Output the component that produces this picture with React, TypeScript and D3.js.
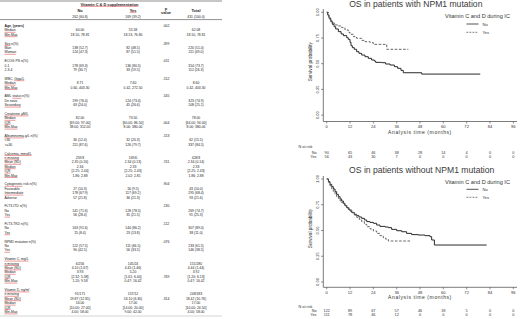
import React from "react";
import * as d3 from "d3";

const W = 520;
const H = 319;
const FONT = '"Liberation Sans", Arial, Helvetica, sans-serif';

// ---------------- table data ----------------
const tableHeader = "Vitamin C & D supplementation";
const groupLabels = ["No", "Yes"];
const groupCounts = ["262 (60.8)", "169 (39.2)"];
const totalLabel = "Total";
const totalCount = "431 (100.0)";

const sectionTitles = [
  "Age, (years)",
  "Sex n(%)",
  "ECOG PS n(%)",
  "WBC, Giga/L",
  "AML status n(%)",
  "Creatinine µM/L",
  "Albuminemia g/L n(%)",
  "Calcemia, mmol/L",
  "Cytogenetic risk n(%)",
  "FLT3-ITD n(%)",
  "FLT3-TKD n(%)",
  "NPM1 mutation n(%)",
  "Vitamin C, mg/L",
  "Vitamin D, ng/ml",
];
const sectionUnderline = ["", "Sex", "", "Giga/L", "status", "Creatinine µM/L", "Albuminemia", "Calcemia, mmol/L", "Cytogenetic", "", "", "", "Vitamin C, mg/L", "Vitamin D, ng/ml"];
const sectionP = [".002", ".399", ".011", ".152", ".545", ".004", ".153", ".741", ".904", ".130", ".112", ".076", ".769", ".314"];
const sectionPRow = [0, 0, 0, 0, 0, 2, 0, 2, 0, 0, 0, 0, 4, 2];

const rowLabels = [
  ["Median", "Min-Max"],
  ["Man", "Woman"],
  ["0-1", "2-3-4"],
  ["Median", "Min-Max"],
  ["De novo", "Secondary"],
  ["Median", "IQR", "Min-Max"],
  ["<30", ">=30"],
  ["n missing", "Mean (SD)", "Median", "IQR", "Min-Max"],
  ["Favorable", "Intermediate", "Adverse"],
  ["No", "Yes"],
  ["No", "Yes"],
  ["No", "Yes"],
  ["n missing", "Mean (SD)", "Median", "IQR", "Min-Max"],
  ["n missing", "Mean (SD)", "Median", "IQR", "Min-Max"],
];
const underlinedLabels = ["Median", "Min-Max", "Woman", "Secondary", "IQR", "n missing", "Mean (SD)", "Yes", "Intermediate"];

const noValues = [
  ["60.00", "18.10, 78.81"],
  ["138 (52.7)", "124 (47.3)"],
  ["178 (69.3)", "79 (30.7)"],
  ["8.71", "0.60, 403.30"],
  ["199 (76.0)", "63 (24.0)"],
  ["82.00", "[69.00; 97.00]", "38.00; 312.00"],
  ["30 (12.4)", "211 (87.6)"],
  ["259/3", "2.35 (0.16)", "2.34", "[2.25; 2.44]", "1.86; 2.88"],
  ["27 (10.3)", "178 (67.9)", "57 (21.8)"],
  ["141 (71.6)", "56 (28.4)"],
  ["163 (91.6)", "15 (8.4)"],
  ["122 (57.5)", "90 (42.5)"],
  ["6/256", "4.10 (1.67)", "3.93", "[2.32; 5.38]", "1.20; 9.58"],
  ["91/171", "19.87 (12.81)", "16.00", "[10.00; 27.00]", "4.00; 58.00"],
];
const yesValues = [
  ["55.58", "18.13, 76.80"],
  ["82 (48.5)", "87 (51.5)"],
  ["136 (80.5)", "33 (19.5)"],
  ["7.60", "0.42, 272.50"],
  ["124 (73.4)", "45 (26.6)"],
  ["73.50", "[60.00; 86.50]", "8.00; 380.00"],
  ["32 (20.3)", "126 (79.7)"],
  ["169/0", "2.34 (0.13)", "2.33", "[2.25; 2.43]", "2.02; 2.81"],
  ["16 (9.5)", "117 (69.2)", "36 (21.3)"],
  ["128 (78.5)", "35 (21.5)"],
  ["144 (86.2)", "23 (13.8)"],
  ["111 (66.5)", "56 (33.5)"],
  ["145/24", "4.45 (1.46)", "5.20", "[1.61; 6.40]", "0.47; 16.42"],
  ["157/12", "16.10 (6.30)", "17.00", "[14.00; 20.00]", "9.00; 42.00"],
];
const totalValues = [
  ["62.08", "18.10, 78.81"],
  ["220 (51.0)", "211 (49.0)"],
  ["314 (73.7)", "112 (26.3)"],
  ["8.60", "0.42, 403.30"],
  ["323 (74.9)", "108 (25.1)"],
  ["78.00", "[64.00; 94.00]", "8.00; 380.00"],
  ["62 (15.5)", "337 (84.5)"],
  ["428/3", "2.34 (0.14)", "2.33", "[2.25; 2.43]", "1.86; 2.88"],
  ["43 (10.0)", "295 (68.4)", "93 (21.6)"],
  ["269 (74.7)", "91 (25.3)"],
  ["307 (89.0)", "38 (11.0)"],
  ["233 (61.5)", "146 (38.5)"],
  ["151/280", "4.44 (1.44)", "3.92", "[1.20; 6.13]", "0.47; 16.42"],
  ["248/183", "18.42 (10.76)", "17.00", "[10.00; 24.50]", "4.00; 58.00"],
];

// ---------------- Kaplan-Meier data ----------------
const kmTitles = ["OS in patients with NPM1 mutation", "OS in patients without NPM1 mutation"];
const legendTitle = "Vitamin C and D during IC";
const seriesNames = ["No", "Yes"];
const timeTicks = [0, 12, 24, 36, 48, 60, 72, 84, 96];
const survTicks = [0, 0.25, 0.5, 0.75, 1];

const km1No: [number, number][] = [[0,1],[0.5,0.974],[1.2,0.942],[2.1,0.909],[2.9,0.883],[3.8,0.86],[4.6,0.838],[6.0,0.812],[7.4,0.789],[8.6,0.773],[10.3,0.753],[11.1,0.737],[12.0,0.708],[12.5,0.675],[13.2,0.656],[14.2,0.64],[15.4,0.617],[16.6,0.601],[18.0,0.584],[19.7,0.568],[21.4,0.552],[23.1,0.536],[24.5,0.526],[25.2,0.513],[28.3,0.51],[30.3,0.497],[32.6,0.487],[34.8,0.471],[36.5,0.455],[38.2,0.435],[39.4,0.412],[48.9,0.399],[79,0.399]];
const km1Yes: [number, number][] = [[0,1],[0.9,0.958],[1.7,0.925],[2.6,0.903],[3.4,0.893],[4.3,0.877],[6.0,0.867],[7.7,0.851],[9.4,0.828],[11.1,0.805],[12.0,0.786],[13.7,0.763],[15.4,0.747],[18.0,0.727],[19.7,0.714],[22.3,0.705],[24.0,0.688],[30.9,0.64],[42.0,0.64]];
const km2No: [number, number][] = [[0,1],[0.9,0.974],[1.7,0.948],[2.6,0.926],[3.4,0.903],[4.3,0.877],[5.1,0.851],[6.0,0.828],[6.9,0.806],[7.7,0.786],[8.6,0.764],[9.4,0.741],[10.3,0.722],[11.1,0.706],[12.0,0.689],[12.9,0.673],[14.2,0.657],[15.4,0.644],[16.6,0.631],[18.0,0.618],[19.4,0.602],[20.6,0.586],[22.3,0.579],[24.0,0.57],[25.7,0.553],[27.4,0.54],[30.0,0.534],[31.7,0.528],[33.4,0.511],[36.0,0.498],[38.6,0.488],[41.1,0.472],[43.7,0.46],[47.1,0.456],[50.6,0.45],[53.1,0.44],[54.0,0.408],[55.4,0.359],[82.3,0.359]];
const km2Yes: [number, number][] = [[0,1],[0.9,0.968],[1.7,0.935],[2.6,0.903],[3.4,0.877],[4.3,0.851],[5.1,0.828],[6.0,0.812],[6.9,0.786],[7.7,0.77],[9.1,0.748],[10.3,0.722],[11.5,0.699],[12.9,0.676],[14.2,0.65],[15.4,0.628],[16.8,0.608],[18.0,0.586],[19.4,0.56],[20.6,0.537],[22.3,0.515],[24.0,0.495],[25.7,0.472],[27.4,0.45],[29.1,0.43],[30.3,0.417],[31.7,0.398],[43.7,0.398]];

const risk1No = [90, 65, 46, 38, 28, 14, 4, 0, 0];
const risk1Yes = [56, 43, 30, 7, 0, 0, 0, 0, 0];
const risk2No = [122, 89, 67, 57, 46, 18, 5, 0, 0];
const risk2Yes = [111, 78, 46, 12, 0, 0, 0, 0, 0];

// ---------------- helpers ----------------
let ctx: CanvasRenderingContext2D | null = null;
function textWidth(t: string, size: number, bold = false) {
  if (!ctx) ctx = document.createElement("canvas").getContext("2d");
  if (!ctx) return t.length * size * 0.5;
  ctx.font = `${bold ? "bold " : ""}${size}px ${FONT}`;
  return ctx.measureText(t).width;
}

const RED = "#e04848";
const TXT = "#222";

function Table() {
  const fs = 3.4;
  const lineH = 4.4;
  const y0 = 26;
  const labelX = 4.5;
  const colNo = 80;
  const colYes = 133;
  const colP = 166;
  const colTot = 196;
  const els: React.ReactNode[] = [];
  let line = 0;
  sectionTitles.forEach((title, si) => {
    const hy = y0 + line * lineH;
    const bold = si === 0;
    els.push(
      <text key={`h${si}`} x={labelX} y={hy} fontSize={fs} fontWeight={bold ? "bold" : "normal"} fill={TXT} dominantBaseline="central">{title}</text>
    );
    const ul = sectionUnderline[si];
    if (ul) {
      const idx = title.indexOf(ul);
      const off = textWidth(title.slice(0, idx), fs, bold);
      const w = textWidth(ul, fs, bold);
      els.push(<line key={`hu${si}`} x1={labelX + off} x2={labelX + off + w} y1={hy + 1.9} y2={hy + 1.9} stroke={RED} strokeWidth={0.55} />);
    }
    const rows = rowLabels[si];
    const pRow = sectionPRow[si];
    els.push(
      <text key={`p${si}`} x={colP} y={hy + pRow * lineH} fontSize={fs} fill={TXT} textAnchor="middle" dominantBaseline="central">{sectionP[si]}</text>
    );
    line++;
    rows.forEach((lab, ri) => {
      const y = y0 + line * lineH;
      els.push(<text key={`l${si}_${ri}`} x={labelX} y={y} fontSize={fs} fill={TXT} dominantBaseline="central">{lab}</text>);
      if (underlinedLabels.includes(lab) && !(lab === "Yes" && si < 9)) {
        els.push(<line key={`lu${si}_${ri}`} x1={labelX} x2={labelX + textWidth(lab, fs)} y1={y + 1.9} y2={y + 1.9} stroke={RED} strokeWidth={0.55} />);
      }
      [noValues, yesValues, totalValues].forEach((vals, ci) => {
        els.push(
          <text key={`v${si}_${ri}_${ci}`} x={[colNo, colYes, colTot][ci]} y={y} fontSize={fs} fill={TXT} textAnchor="middle" dominantBaseline="central">{vals[si][ri]}</text>
        );
      });
      line++;
    });
    line++;
  });

  const hfs = 3.9;
  const hw = textWidth(tableHeader, hfs, true);
  const hx = (colNo + colYes) / 2 + 3;
  const yw = textWidth(groupLabels[1], hfs, true);
  return (
    <g fontFamily={FONT}>
      <line x1={0} x2={222} y1={1} y2={1} stroke="#444" strokeWidth={0.6} />
      <text x={hx} y={4.3} fontSize={hfs} fontWeight="bold" fill={TXT} textAnchor="middle" dominantBaseline="central">{tableHeader}</text>
      <line x1={hx - hw / 2} x2={hx + hw / 2} y1={6.4} y2={6.4} stroke={RED} strokeWidth={0.55} />
      {groupLabels.map((g, i) => (
        <text key={g} x={[colNo, colYes][i]} y={10.3} fontSize={hfs} fontWeight="bold" fill={TXT} textAnchor="middle" dominantBaseline="central">{g}</text>
      ))}
      <line x1={colYes - yw / 2} x2={colYes + yw / 2} y1={12.4} y2={12.4} stroke={RED} strokeWidth={0.55} />
      {groupCounts.map((g, i) => (
        <text key={g} x={[colNo, colYes][i]} y={16.8} fontSize={fs} fill={TXT} textAnchor="middle" dominantBaseline="central">{g}</text>
      ))}
      <text x={colP} y={8.8} fontSize={hfs} fontWeight="bold" fill={TXT} textAnchor="middle" dominantBaseline="central">p</text>
      <text x={colP} y={12.8} fontSize={hfs} fontWeight="bold" fill={TXT} textAnchor="middle" dominantBaseline="central">value</text>
      <text x={colTot} y={10.3} fontSize={hfs} fontWeight="bold" fill={TXT} textAnchor="middle" dominantBaseline="central">{totalLabel}</text>
      <text x={colTot} y={16.8} fontSize={fs} fill={TXT} textAnchor="middle" dominantBaseline="central">{totalCount}</text>
      <line x1={0} x2={222} y1={19.6} y2={19.6} stroke="#444" strokeWidth={0.6} />
      {els}
      <line x1={0} x2={222} y1={316} y2={316} stroke="#bbb" strokeWidth={0.6} />
    </g>
  );
}

type Panel = {
  title: string;
  titleX: number;
  titleY: number;
  yTop: number;
  yBottom: number;
  axisY: number;
  axisTop: number;
  tickY: number;
  xTitleY: number;
  riskY: number[];
  legendY: number[];
  curves: [number, number][][];
  risk: number[][];
};

const xScale = d3.scaleLinear().domain([0, 96]).range([326.7, 513.3]);

function KMPanel({ p }: { p: Panel }) {
  const y = d3.scaleLinear().domain([0, 1]).range([p.yBottom, p.yTop]);
  const line = d3
    .line<[number, number]>()
    .x((d) => xScale(d[0]))
    .y((d) => y(d[1]))
    .curve(d3.curveStepAfter);
  const axisX = 323.3;
  const styles = [
    { stroke: "#2a2a2a", dash: undefined as string | undefined, width: 1 },
    { stroke: "#555", dash: "2.6,1.6", width: 0.9 },
  ];
  const fmt = d3.format(".2f");
  const legX1 = 466.5;
  const legX2 = 478.5;
  return (
    <g fontFamily={FONT}>
      <text x={p.titleX} y={p.titleY} fontSize={8.6} fill="#3a3a3a" textAnchor="middle" dominantBaseline="central">{p.title}</text>
      {/* y axis */}
      <line x1={axisX} x2={axisX} y1={p.axisTop} y2={p.axisY} stroke="#444" strokeWidth={0.7} />
      {survTicks.map((t) => (
        <g key={t}>
          <line x1={axisX - 2.2} x2={axisX} y1={y(t)} y2={y(t)} stroke="#444" strokeWidth={0.6} />
          <text transform={`translate(${317.6},${y(t)}) rotate(-90)`} fontSize={4.1} fill="#333" textAnchor="middle" dominantBaseline="central">{fmt(t)}</text>
        </g>
      ))}
      <text transform={`translate(${310.3},${(p.yTop + p.yBottom) / 2 - 2}) rotate(-90)`} fontSize={4.7} fill="#333" textAnchor="middle" dominantBaseline="central">Survival probability</text>
      {/* x axis */}
      <line x1={axisX} x2={517} y1={p.axisY} y2={p.axisY} stroke="#444" strokeWidth={0.7} />
      {timeTicks.map((t) => (
        <g key={t}>
          <line x1={xScale(t)} x2={xScale(t)} y1={p.axisY} y2={p.axisY + 2} stroke="#444" strokeWidth={0.6} />
          <text x={xScale(t)} y={p.tickY} fontSize={4.1} fill="#333" textAnchor="middle" dominantBaseline="central">{t}</text>
        </g>
      ))}
      <text x={420} y={p.xTitleY} fontSize={5} letterSpacing={0.6} fill="#333" textAnchor="middle" dominantBaseline="central">Analysis time (months)</text>
      {/* curves */}
      {p.curves.map((c, i) => (
        <path key={i} d={line(c) || ""} fill="none" stroke={styles[i].stroke} strokeWidth={styles[i].width} strokeDasharray={styles[i].dash} />
      ))}
      {/* legend */}
      <text x={477.5} y={p.legendY[0]} fontSize={5.6} fill="#333" textAnchor="middle" dominantBaseline="central">{legendTitle}</text>
      {seriesNames.map((s, i) => (
        <g key={s}>
          <line x1={legX1} x2={legX2} y1={p.legendY[i + 1]} y2={p.legendY[i + 1]} stroke={styles[i].stroke} strokeWidth={0.8} strokeDasharray={styles[i].dash ? "1.8,1.2" : undefined} />
          <text x={482.5} y={p.legendY[i + 1]} fontSize={4} fill="#333" dominantBaseline="central">{s}</text>
        </g>
      ))}
      {/* numbers at risk */}
      <text x={298.5} y={p.riskY[0]} fontSize={3.8} fill="#333" dominantBaseline="central">N at risk</text>
      {seriesNames.map((s, i) => (
        <g key={`r${s}`}>
          <text x={316.5} y={p.riskY[i + 1]} fontSize={3.8} fill="#333" textAnchor="end" dominantBaseline="central">{s}</text>
          {p.risk[i].map((n, k) => (
            <text key={k} x={xScale(timeTicks[k])} y={p.riskY[i + 1]} fontSize={3.8} fill="#333" textAnchor="middle" dominantBaseline="central">{n}</text>
          ))}
        </g>
      ))}
    </g>
  );
}

const panels: Panel[] = [
  {
    title: kmTitles[0], titleX: 415.8, titleY: 3.6,
    yTop: 12.3, yBottom: 115.1, axisY: 121.5, axisTop: 9, tickY: 126.7, xTitleY: 131.7,
    riskY: [147.3, 152.7, 156.9], legendY: [15.7, 24, 32.3],
    curves: [km1No, km1Yes], risk: [risk1No, risk1Yes],
  },
  {
    title: kmTitles[1], titleX: 421.7, titleY: 170,
    yTop: 179, yBottom: 282, axisY: 287.3, axisTop: 176, tickY: 292.7, xTitleY: 297.3,
    riskY: [306.7, 311, 315.3], legendY: [182.3, 189.3, 197.3],
    curves: [km2No, km2Yes], risk: [risk2No, risk2Yes],
  },
];

export default function App() {
  return (
    <svg width={W} height={H} viewBox={`0 0 ${W} ${H}`} style={{ position: "absolute", left: 0, top: 0, display: "block", background: "#fff" }}>
      <rect x={0} y={0} width={W} height={H} fill="#fff" />
      <Table />
      {panels.map((p, i) => (
        <KMPanel key={i} p={p} />
      ))}
    </svg>
  );
}
